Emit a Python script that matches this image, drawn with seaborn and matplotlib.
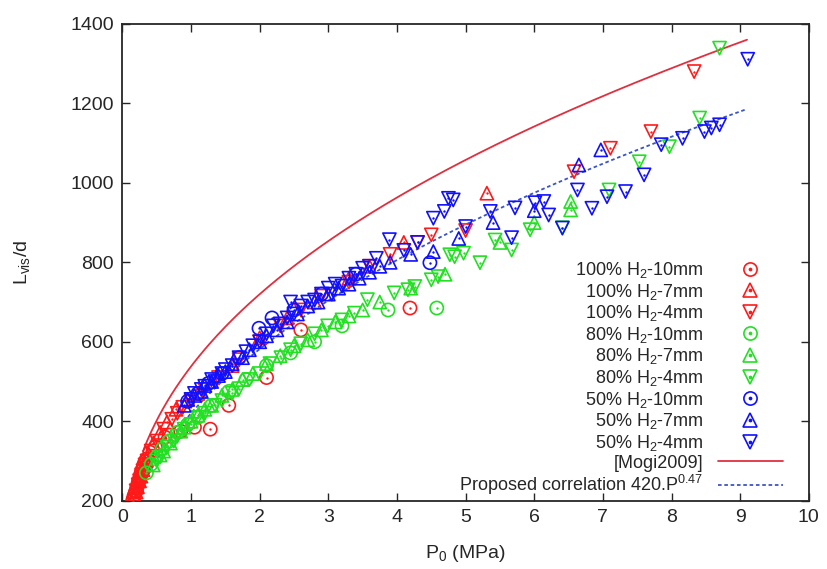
import numpy as np
import matplotlib
matplotlib.use('Agg')
import matplotlib.pyplot as plt
import seaborn as sns
from matplotlib.lines import Line2D
from matplotlib.legend_handler import HandlerTuple

sns.set_style('ticks')
plt.rcParams['font.family'] = ['Liberation Sans', 'DejaVu Sans']
plt.rcParams['mathtext.fontset'] = 'custom'
plt.rcParams['mathtext.rm'] = 'Liberation Sans'
plt.rcParams['mathtext.it'] = 'Liberation Sans'

# --- data (P0 in MPa, Lvis/d) ---
p_100_10 = [0.15, 0.16, 0.17, 0.18, 0.19, 0.20, 0.21, 0.22, 0.23, 0.24, 0.25, 0.26, 0.27, 0.28, 0.30, 0.31,
            0.33, 0.35, 0.40, 0.48, 0.62, 0.85, 1.05, 1.28, 1.55, 2.10, 2.60, 4.19]
l_100_10 = [200, 205, 212, 215, 222, 225, 232, 238, 245, 250, 255, 262, 268, 275, 282, 290,
            298, 305, 322, 335, 360, 375, 385, 380, 440, 510, 630, 685]

p_100_7 = [0.18, 0.20, 0.22, 0.25, 0.27, 0.30, 0.32, 0.35, 0.38, 0.45, 0.55, 0.65, 0.78, 0.95, 1.10, 1.60,
           2.00, 2.40, 2.80, 3.30, 3.60, 4.10, 5.31]
l_100_7 = [210, 222, 235, 250, 262, 278, 290, 302, 318, 345, 372, 398, 430, 455, 470, 540,
           610, 660, 700, 760, 790, 850, 974]

p_100_4 = [0.20, 0.23, 0.25, 0.28, 0.30, 0.33, 0.36, 0.42, 0.50, 0.60, 0.72, 0.80, 0.88, 1.00, 1.20, 1.40,
           1.70, 2.00, 2.30, 2.60, 2.90, 3.30, 3.60, 3.90, 4.30, 4.50, 5.00, 6.58, 7.11, 7.70, 8.33]
l_100_4 = [225, 240, 250, 265, 275, 290, 300, 325, 350, 380, 405, 420, 435, 450, 480, 510,
           555, 600, 640, 680, 715, 750, 790, 820, 850, 869, 880, 1028, 1087, 1129, 1280]

p_80_10 = [0.35, 0.42, 0.50, 0.58, 0.68, 0.80, 0.95, 1.10, 1.30, 1.55, 1.80, 2.10, 2.45, 2.80, 3.20, 3.87, 4.58]
l_80_10 = [270, 292, 310, 330, 350, 372, 392, 410, 440, 475, 505, 540, 572, 600, 640, 680, 685]

p_80_7 = [0.45, 0.55, 0.60, 0.70, 0.85, 0.90, 1.00, 1.10, 1.20, 1.30, 1.45, 1.60, 1.75, 1.90, 2.10, 2.30,
          2.50, 2.70, 2.90, 3.10, 3.30, 3.50, 3.75, 4.20, 4.70, 5.50, 6.00, 6.53, 6.53]
l_80_7 = [290, 315, 325, 345, 375, 385, 400, 415, 430, 440, 465, 480, 505, 520, 545, 565,
          590, 605, 630, 650, 665, 680, 700, 735, 770, 850, 900, 953, 932]

p_80_4 = [0.50, 0.55, 0.65, 0.75, 0.80, 0.90, 1.00, 1.10, 1.20, 1.35, 1.45, 1.60, 1.70, 1.85, 2.00, 2.15,
          2.31, 2.45, 2.60, 2.80, 2.99, 3.20, 3.38, 3.57, 3.96, 4.16, 4.26, 4.50, 4.60,
          4.77, 4.84, 4.97, 5.21, 5.43, 5.67, 5.94, 6.41, 7.09, 7.53, 7.97, 8.41, 8.70]
l_80_4 = [300, 310, 335, 350, 362, 380, 392, 410, 420, 440, 452, 470, 482, 505, 520, 545,
          560, 580, 595, 620, 640, 655, 672, 706, 723, 731, 739, 756, 764,
          819, 814, 823, 799, 856, 831, 882, 887, 982, 1053, 1091, 1163, 1339]

p_50_10 = [0.95, 1.10, 1.25, 1.45, 1.70, 1.99, 2.18, 2.50, 2.90, 3.40, 4.48]
l_50_10 = [450, 470, 495, 520, 560, 634, 660, 680, 720, 770, 799]

p_50_7 = [0.90, 0.95, 1.05, 1.15, 1.20, 1.30, 1.40, 1.50, 1.60, 1.75, 1.85, 2.00, 2.10, 2.25, 2.40, 2.55,
          2.70, 2.85, 3.00, 3.15, 3.30, 3.45, 3.60, 3.75, 3.90, 4.20, 4.53, 4.90, 5.40, 6.00, 6.65, 6.97]
l_50_7 = [440, 455, 465, 475, 490, 500, 515, 525, 545, 560, 580, 600, 615, 630, 650, 670,
          690, 700, 720, 735, 745, 760, 775, 790, 800, 820, 827, 860, 900, 930, 1045, 1083]

p_50_4 = [1.00, 1.05, 1.15, 1.20, 1.30, 1.35, 1.45, 1.50, 1.60, 1.70, 1.80, 1.90, 2.00, 2.10, 2.20, 2.30,
          2.40, 2.45, 2.50, 2.60, 2.70, 2.80, 2.90, 3.00, 3.05, 3.10, 3.20, 3.30, 3.40, 3.50, 3.60, 3.70,
          3.89, 4.10, 4.30, 4.53, 4.69, 4.75, 4.82, 5.00, 5.36, 5.67, 5.72, 6.01, 6.14, 6.21, 6.41, 6.63,
          6.84, 7.06, 7.33, 7.60, 7.85, 8.16, 8.48, 8.58, 8.70, 9.11]
l_50_4 = [455, 470, 480, 488, 505, 500, 520, 530, 540, 560, 575, 590, 600, 620, 640, 645,
          660, 700, 670, 690, 700, 705, 720, 735, 720, 745, 740, 760, 770, 785, 790, 810,
          857, 830, 850, 911, 928, 961, 957, 890, 928, 862, 937, 950, 953, 919, 886, 982,
          936, 965, 978, 1020, 1096, 1112, 1129, 1138, 1146, 1311]

# correlations
mogi_a, mogi_b = 538, 0.42
prop_a, prop_b = 420, 0.47
p_range = (0.3, 9.1)

RED, GREEN, BLUE = '#ff1a1a', '#22e022', '#1010ff'

series = [
    ('100% H$_2$-10mm', p_100_10, l_100_10, 'o', RED),
    ('100% H$_2$-7mm', p_100_7, l_100_7, '^', RED),
    ('100% H$_2$-4mm', p_100_4, l_100_4, 'v', RED),
    ('80% H$_2$-10mm', p_80_10, l_80_10, 'o', GREEN),
    ('80% H$_2$-7mm', p_80_7, l_80_7, '^', GREEN),
    ('80% H$_2$-4mm', p_80_4, l_80_4, 'v', GREEN),
    ('50% H$_2$-10mm', p_50_10, l_50_10, 'o', BLUE),
    ('50% H$_2$-7mm', p_50_7, l_50_7, '^', BLUE),
    ('50% H$_2$-4mm', p_50_4, l_50_4, 'v', BLUE),
]

fig, ax = plt.subplots(figsize=(8.27, 5.69), dpi=100)
fig.subplots_adjust(left=0.148, right=0.978, bottom=0.12, top=0.958)

p_fit = np.linspace(*p_range, 300)
mogi_color, prop_color = '#e03040', '#3a55c8'
sns.lineplot(x=p_fit, y=mogi_a * p_fit ** mogi_b, color=mogi_color, lw=1.3, ax=ax, zorder=2)
sns.lineplot(x=p_fit, y=prop_a * p_fit ** prop_b, color=prop_color, lw=1.3,
             linestyle=(0, (2, 1.5)), ax=ax, zorder=2)

handles, labels = [], []
for label, p, l, m, c in series:
    sns.scatterplot(x=p, y=l, marker=m, s=90, facecolor='none', edgecolor=c,
                    linewidth=1.2, ax=ax, zorder=3)
    sns.scatterplot(x=p, y=l, marker='o', s=3, color=c, linewidth=0, ax=ax, zorder=3)
    h_mark = Line2D([], [], ls='none', marker=m, ms=9.5, mfc='none', mec=c, mew=1.2)
    h_dot = Line2D([], [], ls='none', marker='o', ms=1.7, mfc=c, mec=c)
    handles.append((h_mark, h_dot))
    labels.append(label)

handles.append(Line2D([], [], color=mogi_color, lw=1.3))
labels.append('[Mogi2009]')
handles.append(Line2D([], [], color=prop_color, lw=1.3, linestyle=(0, (2, 1.5))))
labels.append('Proposed correlation 420.P$^{0.47}$')

ax.legend(handles, labels, loc='lower right', bbox_to_anchor=(0.983, -0.023), frameon=False,
          markerfirst=False, fontsize=13, labelspacing=0.09, handlelength=3.6,
          handletextpad=0.8, borderpad=0.3,
          handler_map={tuple: HandlerTuple(ndivide=1)})

ax.set_xlim(0, 10)
ax.set_ylim(200, 1400)
ax.set_xticks(range(0, 11))
ax.set_yticks(range(200, 1401, 200))
ax.tick_params(direction='in', length=6, width=1, top=True, right=True, labelsize=14, pad=6)
for s in ax.spines.values():
    s.set_linewidth(1.3)
    s.set_visible(True)
ax.set_xlabel('P$_0$ (MPa)', fontsize=14, labelpad=12)
ax.set_ylabel('L$_{vis}$/d', fontsize=14, labelpad=28)

fig.savefig('out.png', dpi=100)
